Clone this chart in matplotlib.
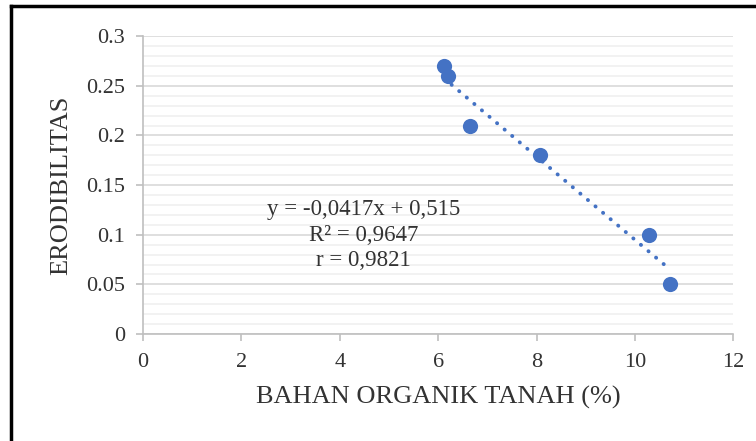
import numpy as np
import matplotlib.pyplot as plt
from matplotlib.lines import Line2D

# data
bahan_organik = [6.12, 6.20, 6.65, 8.08, 10.29, 10.72]
erodibilitas = [0.27, 0.26, 0.21, 0.18, 0.10, 0.05]

eq_lines = ['y = -0,0417x + 0,515', 'R² = 0,9647', 'r = 0,9821']

blue = '#4472C4'
txt = '#333333'
plt.rcParams['font.family'] = ['Liberation Serif', 'DejaVu Serif']

fig = plt.figure(figsize=(7.56, 4.41), dpi=100)
ax = fig.add_axes([0.189, 0.2426, 0.781, 0.6754])

ax.set_xlim(0, 12)
ax.set_ylim(0, 0.3)
ax.set_xticks(np.arange(0, 13, 2))
ax.set_yticks(np.arange(0, 0.31, 0.05))
ax.set_yticks(np.arange(0, 0.301, 0.01), minor=True)
ax.set_yticklabels(['0', '0.05', '0.1', '0.15', '0.2', '0.25', '0.3'])
ax.grid(axis='y', which='major', color='#d9d9d9', lw=1.2, zorder=0)
ax.grid(axis='y', which='minor', color='#f0f0f0', lw=1.2, zorder=0)
ax.tick_params(axis='both', which='minor', length=0)
ax.tick_params(axis='both', which='major', length=5, color='#bfbfbf', width=1.2,
               labelsize=16, labelcolor=txt)
ax.tick_params(axis='y', pad=8)
ax.tick_params(axis='x', pad=9)
for s in ['top', 'right']:
    ax.spines[s].set_visible(False)
for s in ['left', 'bottom']:
    ax.spines[s].set_color('#bfbfbf')
    ax.spines[s].set_linewidth(1.2)

ax.scatter(bahan_organik, erodibilitas, s=120, color=blue, zorder=3, linewidths=0)

# linear trendline
k, b = np.polyfit(bahan_organik, erodibilitas, 1)
xs = np.array([min(bahan_organik), max(bahan_organik)])
ax.plot(xs, k * xs + b, color=blue, lw=2.8, linestyle=(0, (0.05, 2.5)),
        dash_capstyle='round', zorder=2)

ax.text(4.48, 0.0997, '\n'.join(eq_lines), ha='center', va='center',
        fontsize=16.5, color=txt, linespacing=1.3)

ax.set_xlabel('BAHAN ORGANIK TANAH (%)', fontsize=19, color=txt, labelpad=10)
ax.set_ylabel('ERODIBILITAS', fontsize=19, color=txt, labelpad=10)

# outer frame (only top and left visible)
fig.add_artist(Line2D([0.0146, 1.0], [0.986, 0.986], color='black', lw=2.5))
fig.add_artist(Line2D([0.0146, 0.0146], [0.0, 0.986], color='black', lw=2.5))

fig.savefig('out.png', dpi=100)
